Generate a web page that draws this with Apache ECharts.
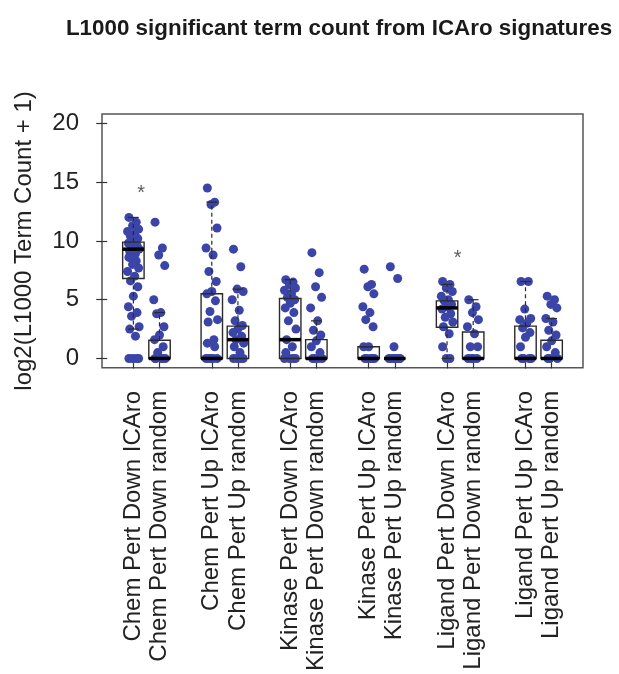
<!DOCTYPE html>
<html>
<head>
<meta charset="utf-8">
<script src="https://cdn.jsdelivr.net/npm/echarts@6/dist/echarts.min.js"></script>
<style>
  html, body { margin: 0; padding: 0; background: #fff; }
  #main { width: 619px; height: 674px; }
</style>
</head>
<body>
<div id="main"></div>
<script>
var categories = [
    'Chem Pert Down ICAro', 'Chem Pert Down random',
    'Chem Pert Up ICAro', 'Chem Pert Up random',
    'Kinase Pert Down ICAro', 'Kinase Pert Down random',
    'Kinase Pert Up ICAro', 'Kinase Pert Up random',
    'Ligand Pert Down ICAro', 'Ligand Pert Down random',
    'Ligand Pert Up ICAro', 'Ligand Pert Up random'
];

// jittered points, one list per category
var pointValues = [
    [12.0, 11.6, 11.3, 11.0, 10.8, 10.6, 10.4, 10.2, 10.0, 9.8, 9.6, 9.5, 9.3, 9.1, 8.9, 8.6, 8.3, 8.0, 7.7, 7.4, 7.0, 6.6, 6.1, 5.3, 4.4, 3.9, 3.6, 2.7, 2.5, 1.9, 0, 0, 0, 0],
    [11.6, 9.4, 8.8, 7.9, 5.0, 3.9, 3.8, 2.7, 2.0, 1.6, 1.0, 0.5, 0, 0, 0, 0, 0],
    [14.5, 13.3, 13.1, 11.1, 9.4, 8.8, 7.4, 6.55, 5.7, 5.5, 4.9, 4.0, 3.3, 3.1, 1.6, 1.3, 1.0, 0, 0, 0, 0, 0],
    [9.3, 7.8, 5.9, 5.7, 5.0, 4.1, 3.2, 2.8, 2.5, 2.2, 1.9, 1.6, 1.3, 1.0, 0.5, 0, 0, 0, 0],
    [6.7, 6.5, 6.3, 6.0, 5.8, 5.5, 5.2, 5.0, 4.7, 4.3, 3.9, 3.2, 2.5, 1.6, 1.0, 0.5, 0, 0, 0, 0],
    [9.0, 7.3, 6.1, 5.2, 4.3, 3.2, 2.4, 2.0, 1.5, 1.0, 0.5, 0, 0, 0, 0],
    [7.6, 6.3, 6.1, 5.5, 4.4, 3.9, 3.3, 2.7, 1.0, 1.0, 0, 0, 0, 0, 0],
    [7.8, 6.8, 1.0, 0, 0, 0, 0, 0, 0],
    [6.55, 6.3, 6.0, 5.7, 5.3, 5.0, 4.9, 4.6, 4.4, 4.2, 3.8, 3.5, 3.1, 2.7, 2.1, 1.0, 0, 0],
    [5.0, 4.4, 3.9, 3.3, 2.7, 2.1, 1.0, 1.0, 0, 0, 0, 0],
    [6.55, 6.55, 4.2, 3.4, 3.3, 3.0, 2.6, 2.2, 1.8, 1.0, 0, 0, 0, 0],
    [5.3, 5.0, 4.6, 4.3, 3.4, 3.1, 2.4, 2.0, 1.5, 1.0, 0.5, 0, 0, 0]
];

// box stats per category
var q1 = [6.8, 0, 0, 0, 0, 0, 0, 0, 2.65, 0, 0, 0];
var median = [9.3, 0, 0, 1.6, 1.6, 0, 0, 0, 4.3, 0, 0, 0];
var q3 = [9.9, 1.55, 5.5, 2.75, 5.1, 1.6, 1.0, 0, 4.9, 2.25, 2.75, 1.55];
var whiskerLow = [2.5, 0, 0, 0, 0, 0, 0, 0, 0, 0, 0, 0];
var whiskerHigh = [12.0, 3.9, 13.3, 5.9, 6.7, 3.2, 1.0, 0, 6.3, 5.0, 6.55, 3.4];

var yTicks = [0, 5, 10, 15, 20];
var stars = [[1.3, 14.0], [13.4, 8.5]];

var FONT = 'Liberation Sans';
var dom = document.getElementById('main');
var myChart = echarts.init(dom);

// pairs sit next to each other, a gap between groups
function posOf(i) { return i + Math.floor(i / 2) + 1; }
var positions = categories.map(function (c, i) { return posOf(i); });
var jitter = [-0.17, 0.11, -0.03, 0.2, -0.22, 0.05, -0.11, 0.17, 0.0, -0.19, 0.14, -0.07, 0.22, -0.14, 0.08];

var pointData = [];
pointValues.forEach(function (vals, i) {
    vals.forEach(function (v, j) {
        pointData.push([posOf(i) + jitter[j % jitter.length], v]);
    });
});

var boxData = categories.map(function (c, i) {
    return [posOf(i), q1[i], median[i], q3[i], whiskerLow[i], whiskerHigh[i]];
});

function renderBox(params, api) {
    var x = api.value(0);
    var pQ1 = api.coord([x, api.value(1)]);
    var pMed = api.coord([x, api.value(2)]);
    var pQ3 = api.coord([x, api.value(3)]);
    var pLo = api.coord([x, api.value(4)]);
    var pHi = api.coord([x, api.value(5)]);
    var half = api.size([0.82, 0])[0] / 2;
    var cap = half / 2;
    var cx = pQ1[0];
    var stroke = '#2b2b2b';
    var dash = { stroke: stroke, lineWidth: 1.2, lineDash: [4, 3] };
    return {
        type: 'group',
        children: [
            { type: 'line', shape: { x1: cx, y1: pQ3[1], x2: cx, y2: pHi[1] }, style: dash },
            { type: 'line', shape: { x1: cx, y1: pQ1[1], x2: cx, y2: pLo[1] }, style: dash },
            { type: 'line', shape: { x1: cx - cap, y1: pHi[1], x2: cx + cap, y2: pHi[1] }, style: { stroke: stroke, lineWidth: 1.2 } },
            { type: 'line', shape: { x1: cx - cap, y1: pLo[1], x2: cx + cap, y2: pLo[1] }, style: { stroke: stroke, lineWidth: 1.2 } },
            { type: 'rect', shape: { x: cx - half, y: pQ3[1], width: 2 * half, height: pQ1[1] - pQ3[1] },
              style: { fill: 'none', stroke: stroke, lineWidth: 1.4 } },
            { type: 'line', shape: { x1: cx - half, y1: pMed[1], x2: cx + half, y2: pMed[1] },
              style: { stroke: '#000', lineWidth: 3.5 } }
        ]
    };
}

var option = {
    backgroundColor: '#fff',
    animation: false,
    title: {
        text: 'L1000 significant term count from ICAro signatures',
        left: 334,
        textAlign: 'center',
        top: 13,
        textStyle: { fontFamily: FONT, fontSize: 22.4, fontWeight: 'bold', color: '#1a1a1a' }
    },
    grid: {
        left: 102, right: 36, top: 114, bottom: 306,
        show: true, borderColor: '#555', borderWidth: 1.5
    },
    xAxis: {
        type: 'value',
        min: -0.2, max: 18.2,
        splitLine: { show: false },
        axisLine: { show: false },
        axisTick: { show: true, length: 10, customValues: positions, lineStyle: { color: '#333', width: 1.2 } },
        axisLabel: {
            customValues: positions,
            rotate: 90,
            margin: 23,
            fontFamily: FONT, fontSize: 24, color: '#222',
            formatter: function (v) {
                var i = positions.indexOf(v);
                return i >= 0 ? categories[i] : '';
            }
        }
    },
    yAxis: {
        type: 'value',
        min: -0.8, max: 20.8,
        name: 'log2(L1000 Term Count + 1)',
        nameLocation: 'middle',
        nameGap: 66,
        nameTextStyle: { fontFamily: FONT, fontSize: 24, color: '#222' },
        splitLine: { show: false },
        axisLine: { show: false },
        axisTick: { show: true, length: 11, customValues: yTicks, lineStyle: { color: '#333', width: 1.2 } },
        axisLabel: {
            customValues: yTicks,
            margin: 23,
            fontFamily: FONT, fontSize: 24, color: '#222'
        }
    },
    series: [
        {
            type: 'scatter',
            data: pointData,
            symbolSize: 9,
            itemStyle: { color: '#3b45a8', opacity: 1 },
            z: 2
        },
        {
            type: 'custom',
            renderItem: renderBox,
            data: boxData,
            z: 3
        },
        {
            type: 'scatter',
            data: stars,
            symbolSize: 0,
            label: {
                show: true, position: 'inside', formatter: '*',
                fontFamily: FONT, fontSize: 20, color: '#333'
            },
            z: 4
        }
    ]
};

if (option && typeof option === 'object') {
    myChart.setOption(option, true);
}
</script>
</body>
</html>
